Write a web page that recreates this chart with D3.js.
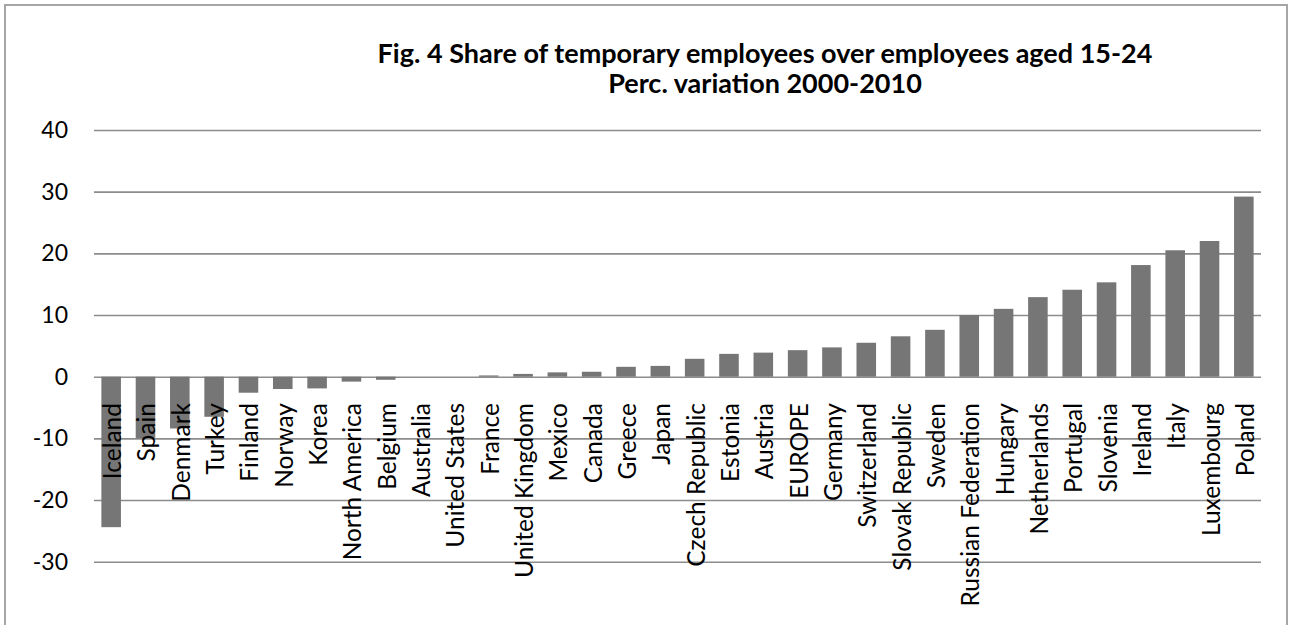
<!DOCTYPE html>
<html>
<head>
<meta charset="utf-8">
<script src="https://cdn.jsdelivr.net/npm/d3@7"></script>
<style>
    body { margin: 0; background: #ffffff; }
    #chart-container { width: 1293px; height: 625px; }
</style>
</head>
<body>
<div id="chart-container"></div>
<script>
// Data
const countries = [
    "Iceland", "Spain", "Denmark", "Turkey", "Finland", "Norway", "Korea",
    "North America", "Belgium", "Australia", "United States", "France",
    "United Kingdom", "Mexico", "Canada", "Greece", "Japan", "Czech Republic",
    "Estonia", "Austria", "EUROPE", "Germany", "Switzerland", "Slovak Republic",
    "Sweden", "Russian Federation", "Hungary", "Netherlands", "Portugal",
    "Slovenia", "Ireland", "Italy", "Luxembourg", "Poland",
];
const variation = [
    -24.4, -10.0, -8.4, -6.5, -2.6, -2.0, -1.9,
    -0.8, -0.5, 0.0, 0.0, 0.2,
    0.45, 0.7, 0.8, 1.6, 1.75, 2.9,
    3.7, 3.9, 4.3, 4.75, 5.5, 6.55,
    7.6, 10.0, 11.0, 12.9, 14.1,
    15.3, 18.1, 20.5, 22.0, 29.2,
];
const yTicks = [-30, -20, -10, 0, 10, 20, 30, 40];
const titleLines = [
    "Fig. 4 Share of temporary employees over employees aged 15-24",
    "Perc. variation 2000-2010",
];

// Configuration
const config = {
    width: 1293,
    height: 625,
    plot: { left: 94, right: 1261, top: 130, bottom: 561.7 },
    font: "Lato, 'Liberation Sans', sans-serif",
    barColor: "#767676",
    gridColor: "#8c8c8c",
    borderColor: "#a6a6a6",
};

const svg = d3.select("#chart-container")
    .append("svg")
    .attr("width", config.width)
    .attr("height", config.height);

// Chart area border
svg.append("rect")
    .attr("x", 5)
    .attr("y", 5)
    .attr("width", 1282)
    .attr("height", 640)
    .attr("fill", "#ffffff")
    .attr("stroke", config.borderColor)
    .attr("stroke-width", 2);

// Scales
const x = d3.scaleBand()
    .domain(countries)
    .range([config.plot.left, config.plot.right])
    .paddingInner(0.43)
    .paddingOuter(0.215);

const y = d3.scaleLinear()
    .domain([-30, 40])
    .range([config.plot.bottom, config.plot.top]);

// Gridlines + y labels (plain hyphen for negatives, like the original)
const yAxis = d3.axisLeft(y)
    .tickValues(yTicks)
    .tickFormat((d) => String(d))
    .tickSize(-(config.plot.right - config.plot.left))
    .tickPadding(26);

const yAxisG = svg.append("g")
    .attr("transform", `translate(${config.plot.left},0)`)
    .call(yAxis);

yAxisG.select(".domain").remove();
yAxisG.selectAll(".tick line")
    .attr("stroke", config.gridColor)
    .attr("stroke-width", 1.6);
yAxisG.selectAll(".tick text")
    .attr("font-family", config.font)
    .attr("font-size", "23px")
    .attr("fill", "#000000");

// Bars
svg.append("g")
    .selectAll("rect")
    .data(countries)
    .enter()
    .append("rect")
    .attr("x", (d) => x(d))
    .attr("width", x.bandwidth())
    .attr("y", (d, i) => y(Math.max(0, variation[i])))
    .attr("height", (d, i) => Math.abs(y(variation[i]) - y(0)))
    .attr("fill", config.barColor);

// Category labels (rotated, hanging from just below the zero line)
svg.append("g")
    .selectAll("text")
    .data(countries)
    .enter()
    .append("text")
    .text((d) => d)
    .attr("transform", (d) => `translate(${x(d) + x.bandwidth() / 2 + 10},403) rotate(-90)`)
    .attr("text-anchor", "end")
    .attr("font-family", config.font)
    .attr("font-size", "24.5px")
    .attr("fill", "#000000");

// Title
svg.append("g")
    .selectAll("text")
    .data(titleLines)
    .enter()
    .append("text")
    .text((d) => d)
    .attr("x", 765)
    .attr("y", (d, i) => 63 + i * 30)
    .attr("text-anchor", "middle")
    .attr("font-family", config.font)
    .attr("font-weight", "bold")
    .attr("font-size", "27px")
    .attr("fill", "#000000");
</script>
</body>
</html>
